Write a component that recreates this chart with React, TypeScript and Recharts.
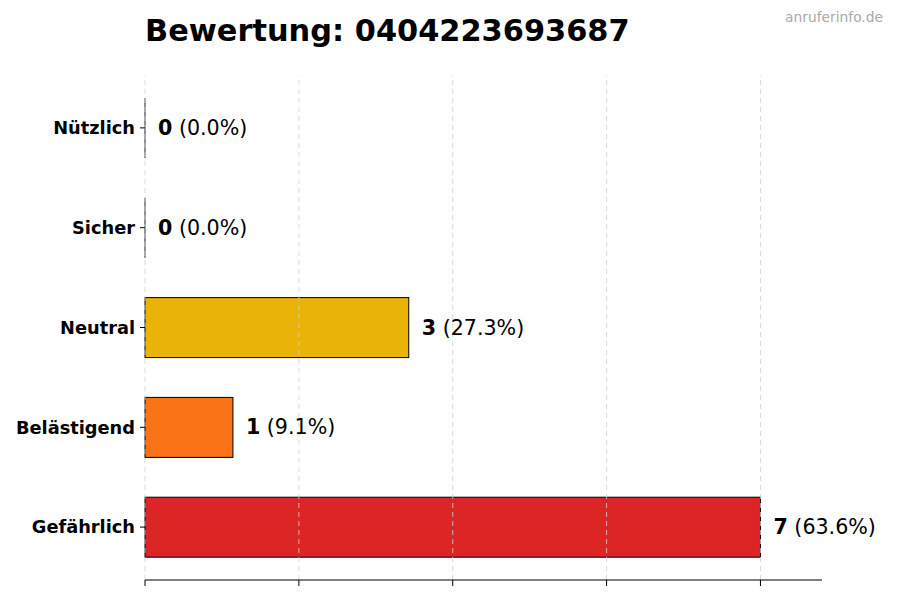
import { Bar, BarChart, Cell, LabelList, ReferenceLine, XAxis, YAxis } from 'recharts'

const CATEGORIES = ['Nützlich', 'Sicher', 'Neutral', 'Belästigend', 'Gefährlich']
const COUNTS = [0, 0, 3, 1, 7]
const PERCENTS = ['0.0', '0.0', '27.3', '9.1', '63.6']
const COLORS = ['#16a34a', '#2563eb', '#eab308', '#f97316', '#dc2626']
const X_TICKS = [0, 1.75, 3.5, 5.25, 7]

const FONT = '"DejaVu Sans", sans-serif'

const rows = CATEGORIES.map((name, i) => ({
  name,
  count: COUNTS[i],
  pct: PERCENTS[i],
  fill: COLORS[i]
}))

function BarShape(props: any) {
  const { x, y, width, height, fill } = props
  if (!width || width < 1) {
    return <line x1={x} x2={x} y1={y} y2={y + height} stroke="#222" strokeWidth={1} />
  }
  return <rect x={x} y={y} width={width} height={height} fill={fill} stroke="#000" strokeWidth={1} />
}

function ValueLabel(props: any) {
  const { x, y, width, height, index } = props
  const row = rows[index]
  return (
    <text
      x={x + width + 13}
      y={y + height / 2}
      dominantBaseline="central"
      fontFamily={FONT}
      fontSize={20.6}
      fill="#000"
    >
      <tspan fontWeight="bold">{row.count}</tspan>
      <tspan> ({row.pct}%)</tspan>
    </text>
  )
}

export default function App() {
  return (
    <div style={{ position: 'absolute', left: 0, top: 0, width: 900, height: 600, background: '#fff' }}>
      <BarChart
        width={900}
        height={600}
        data={rows}
        layout="vertical"
        margin={{ top: 75, right: 78, left: 0, bottom: 0 }}
        barSize={60}
      >
        <XAxis
          type="number"
          domain={[0, 7.7]}
          ticks={X_TICKS}
          height={20}
          tickSize={6}
          tick={() => <g />}
          axisLine={{ stroke: '#000' }}
          tickLine={{ stroke: '#000' }}
        />
        <YAxis
          type="category"
          dataKey="name"
          width={145}
          tickSize={5}
          tickMargin={5}
          padding={{ top: 3, bottom: 3 }}
          axisLine={false}
          tickLine={{ stroke: '#000' }}
          tick={{ fontFamily: FONT, fontSize: 17.8, fontWeight: 'bold', fill: '#000' }}
        />
        <Bar dataKey="count" isAnimationActive={false} shape={<BarShape />}>
          {rows.map((r) => (
            <Cell key={r.name} fill={r.fill} />
          ))}
          <LabelList dataKey="count" content={<ValueLabel />} />
        </Bar>
        {X_TICKS.map((t) => (
          <ReferenceLine key={t} x={t} stroke="#cfcfcf" strokeOpacity={0.8} strokeDasharray="5 4" />
        ))}
      </BarChart>
      <svg width={900} height={60} style={{ position: 'absolute', left: 0, top: 0 }}>
        <text x={145} y={41} fontFamily={FONT} fontSize={30.4} fontWeight="bold" fill="#000">
          Bewertung: 0404223693687
        </text>
        <text x={883} y={22} textAnchor="end" fontFamily={FONT} fontSize={13.8} fill="#aaaaaa">
          anruferinfo.de
        </text>
      </svg>
    </div>
  )
}
